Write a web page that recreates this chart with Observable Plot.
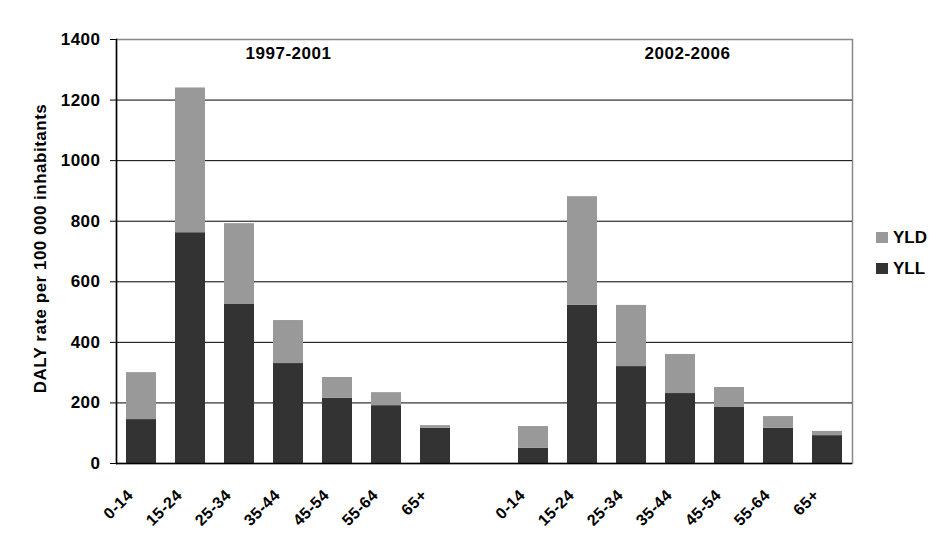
<!DOCTYPE html>
<html><head><meta charset="utf-8">
<script src="https://cdn.jsdelivr.net/npm/d3@7"></script>
<script src="https://cdn.jsdelivr.net/npm/@observablehq/plot@0.6"></script>
<style>
body{margin:0;background:#fff;font-family:"Liberation Sans",Arial,sans-serif;font-weight:bold;}
#wrap{position:relative;width:944px;height:558px;}
#legend{position:absolute;left:876px;top:222px;font-size:17px;color:#000;}
.item{display:flex;align-items:center;height:31px;}
.sw{width:12px;height:11px;margin-right:5px;}
</style></head><body>
<div id="wrap"><div id="chart"></div><div id="legend"></div></div>
<script>
const periods = ["1997-2001", "2002-2006"];
const ages = ["0-14", "15-24", "25-34", "35-44", "45-54", "55-64", "65+"];
const series = ["YLD", "YLL"];
const colors = ["#999999", "#333333"];
const yll1997 = [145, 762, 525, 330, 215, 191, 116];
const yld1997 = [155, 478, 267, 142, 69, 43, 9];
const yll2002 = [50, 522, 320, 231, 185, 116, 92];
const yld2002 = [72, 359, 202, 129, 66, 39, 14];
const yTicks = [0, 200, 400, 600, 800, 1000, 1200, 1400];
const gridValues = [200, 400, 600, 800, 1000, 1200];
const yTitle = "DALY rate per 100 000 inhabitants";

const gapKey = "gap";
const keyOf = (p, a) => p + " " + a;
const keys = [
  ...ages.map(a => keyOf(periods[0], a)),
  gapKey,
  ...ages.map(a => keyOf(periods[1], a))
];
const values = {
  [periods[0]]: {YLL: yll1997, YLD: yld1997},
  [periods[1]]: {YLL: yll2002, YLD: yld2002}
};
const rows = [];
for (const p of periods) {
  ages.forEach((a, i) => {
    rows.push({key: keyOf(p, a), age: a, series: "YLL", value: values[p].YLL[i]});
    rows.push({key: keyOf(p, a), age: a, series: "YLD", value: values[p].YLD[i]});
  });
}
const labelRows = [];
for (const p of periods) ages.forEach(a => labelRows.push({key: keyOf(p, a), age: a}));

const chart = Plot.plot({
  width: 944,
  height: 558,
  marginLeft: 116,
  marginRight: 92,
  marginTop: 39,
  marginBottom: 95,
  style: {fontFamily: '"Liberation Sans", Arial, sans-serif', fontWeight: "bold", fontSize: "17px", letterSpacing: "0.5px", color: "#000", background: "#fff"},
  x: {domain: keys, axis: null, paddingInner: 0.39, paddingOuter: 0.195},
  y: {domain: [0, 1400], ticks: yTicks, tickSize: 6, tickPadding: 10, tickFormat: d => String(d), label: null},
  color: {domain: series, range: colors},
  marks: [
    Plot.frame({stroke: "#888888", strokeWidth: 1.5}),
    Plot.ruleY(gridValues, {stroke: "#000", strokeWidth: 1}),
    Plot.barY(rows, Plot.stackY({x: "key", y: "value", fill: "series", order: null})),
    Plot.frame({anchor: "left", stroke: "#000", strokeWidth: 1.5}),
    Plot.ruleY([0], {stroke: "#000", strokeWidth: 1.5}),
    Plot.text(labelRows, {x: "key", text: "age", frameAnchor: "bottom", rotate: -45, textAnchor: "end", lineAnchor: "middle", dx: -11, dy: 29, fontSize: 16}),
    Plot.text([{key: keyOf(periods[0], ages[3]), text: periods[0]}], {x: "key", text: "text", frameAnchor: "top", dy: 14, lineAnchor: "middle", fontSize: 17}),
    Plot.text([{key: keyOf(periods[1], ages[3]), text: periods[1]}], {x: "key", text: "text", frameAnchor: "top", dy: 14, dx: 7, lineAnchor: "middle", fontSize: 17}),
    Plot.text([yTitle], {text: d => d, frameAnchor: "left", rotate: -90, dx: -76, dy: -3, textAnchor: "middle", lineAnchor: "middle", fontSize: 17})
  ]
});
document.getElementById("chart").appendChild(chart);

const legend = document.getElementById("legend");
series.forEach((s, i) => {
  const item = document.createElement("div");
  item.className = "item";
  const sw = document.createElement("span");
  sw.className = "sw";
  sw.style.background = colors[i];
  const t = document.createElement("span");
  t.textContent = s;
  item.appendChild(sw);
  item.appendChild(t);
  legend.appendChild(item);
});
</script>
</body></html>
